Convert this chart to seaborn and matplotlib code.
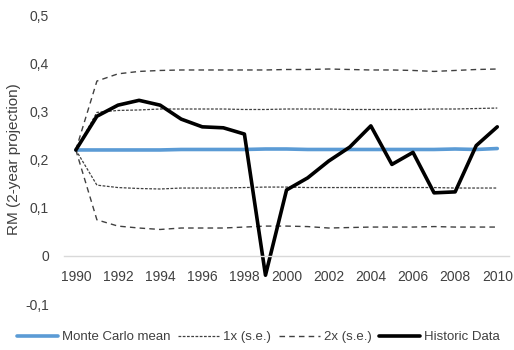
import matplotlib
matplotlib.use("Agg")
import matplotlib.pyplot as plt
import matplotlib.ticker as mticker
from matplotlib.lines import Line2D
import seaborn as sns
import pandas as pd

years = list(range(1990, 2011))

historic = [0.220, 0.290, 0.313, 0.323, 0.313, 0.284, 0.268, 0.266, 0.253, -0.040,
            0.137, 0.162, 0.197, 0.226, 0.270, 0.190, 0.215, 0.131, 0.133, 0.229, 0.268]
mc_mean = [0.220, 0.220, 0.220, 0.220, 0.220, 0.221, 0.221, 0.221, 0.221, 0.222,
           0.222, 0.221, 0.221, 0.221, 0.221, 0.221, 0.221, 0.221, 0.222, 0.221, 0.223]
se1_upper = [0.220, 0.298, 0.302, 0.303, 0.305, 0.305, 0.305, 0.305, 0.304, 0.304,
             0.305, 0.305, 0.305, 0.304, 0.304, 0.304, 0.304, 0.305, 0.305, 0.306, 0.307]
se1_lower = [0.220, 0.147, 0.142, 0.140, 0.139, 0.141, 0.141, 0.141, 0.142, 0.143,
             0.143, 0.142, 0.142, 0.142, 0.142, 0.142, 0.142, 0.142, 0.141, 0.141, 0.141]
se2_upper = [0.220, 0.363, 0.378, 0.383, 0.385, 0.386, 0.386, 0.386, 0.386, 0.386,
             0.387, 0.387, 0.388, 0.387, 0.386, 0.386, 0.385, 0.383, 0.385, 0.387, 0.388]
se2_lower = [0.220, 0.075, 0.062, 0.058, 0.055, 0.058, 0.058, 0.058, 0.060, 0.062,
             0.062, 0.061, 0.058, 0.059, 0.060, 0.060, 0.060, 0.061, 0.060, 0.060, 0.060]

df = pd.DataFrame({
    "year": years, "historic": historic, "mc": mc_mean,
    "s1u": se1_upper, "s1l": se1_lower, "s2u": se2_upper, "s2l": se2_lower,
})

sns.set_theme(style="white")
plt.rcParams["font.family"] = ["Liberation Sans", "DejaVu Sans"]
text_col = "#404040"

fig = plt.figure(figsize=(5.14, 3.5), dpi=100)
ax = fig.add_axes([0.125, 0.131, 0.865, 0.826])

blue = "#5B9BD5"
dash_col = "#404040"
dot_style = (0, (2.2, 1.2))
dash_style = (0, (4, 3))

sns.lineplot(data=df, x="year", y="mc", ax=ax, color=blue, lw=2.6)
for col in ["s1u", "s1l"]:
    sns.lineplot(data=df, x="year", y=col, ax=ax, color=dash_col, lw=0.9,
                 linestyle=dot_style)
for col in ["s2u", "s2l"]:
    sns.lineplot(data=df, x="year", y=col, ax=ax, color=dash_col, lw=1.0,
                 linestyle=dash_style)
sns.lineplot(data=df, x="year", y="historic", ax=ax, color="black", lw=2.6)

ax.set_xlim(1989.45, 2010.55)
ax.set_ylim(-0.1, 0.5)
ax.yaxis.set_major_locator(mticker.MultipleLocator(0.1))
ax.yaxis.set_major_formatter(mticker.FuncFormatter(
    lambda v, p: "0" if abs(v) < 1e-9 else f"{v:.1f}".replace(".", ",")))
ax.set_xticks(list(range(1990, 2011, 2)))
ax.set_xticklabels([str(y) for y in range(1990, 2011, 2)])

for s in ["top", "right", "left"]:
    ax.spines[s].set_visible(False)
ax.spines["bottom"].set_position(("data", 0))
ax.spines["bottom"].set_color("#d9d9d9")
ax.spines["bottom"].set_linewidth(1.0)
ax.tick_params(axis="both", length=0, labelsize=10, colors=text_col)
ax.tick_params(axis="x", pad=10)
ax.tick_params(axis="y", pad=11)

ax.set_xlabel("")
ax.set_ylabel("RM (2-year projection)", fontsize=11, color=text_col, labelpad=3)
ax.grid(False)

handles = [
    Line2D([], [], color=blue, lw=2.6),
    Line2D([], [], color=dash_col, lw=0.9, linestyle=dot_style),
    Line2D([], [], color=dash_col, lw=1.0, linestyle=dash_style),
    Line2D([], [], color="black", lw=2.6),
]
labels = ["Monte Carlo mean", "1x (s.e.)", "2x (s.e.)", "Historic Data"]
fig.legend(handles, labels, loc="center", bbox_to_anchor=(0.503, 0.037), ncol=4,
           frameon=False, fontsize=9.5, handlelength=3.1, handletextpad=0.3,
           columnspacing=0.6, labelcolor=text_col)

fig.savefig("out.png", dpi=100)
